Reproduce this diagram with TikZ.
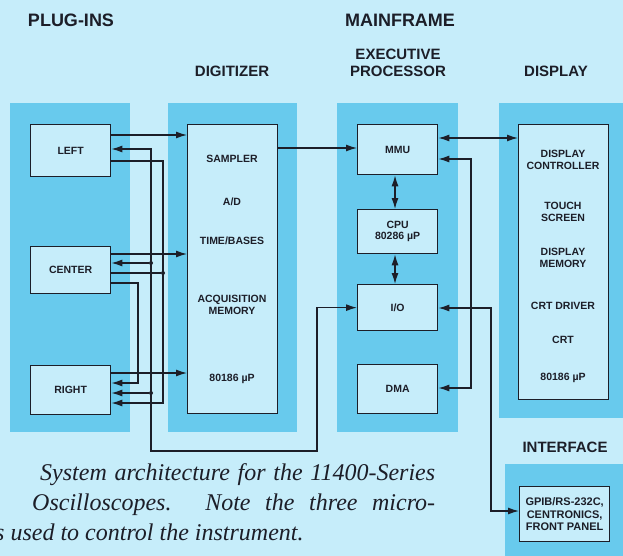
\documentclass[tikz,border=0pt]{standalone}
\usepackage{fontspec}
\setmainfont{Liberation Sans}
\newfontfamily\capfont{Liberation Serif}
\usetikzlibrary{arrows.meta}
\definecolor{paper}{RGB}{198,237,250}
\definecolor{panel}{RGB}{104,202,237}
\definecolor{ink}{RGB}{28,30,40}
\begin{document}
\begin{tikzpicture}[x=1pt,y=-1pt,
  panelbg/.style={fill=panel,draw=none},
  unit/.style={draw=ink,fill=paper,line width=1.3pt,inner sep=0pt,anchor=north west},
  lbl/.style={font=\bfseries\fontsize{10.5}{11.5}\selectfont,text=ink,align=center,inner sep=0pt},
  head/.style={font=\bfseries\fontsize{18}{20}\selectfont,text=ink,inner sep=0pt},
  subhead/.style={font=\bfseries\fontsize{15}{16.5}\selectfont,text=ink,align=center,inner sep=0pt},
  wire/.style={draw=ink,line width=1.3pt},
  tip/.tip={Latex[length=11pt,width=7pt]},
  arr/.style={wire,-tip},
  biarr/.style={wire,tip-tip},
  joint/.style={circle,fill=ink,inner sep=0pt,minimum size=4pt},
  captxt/.style={font=\capfont\itshape\fontsize{24}{28}\selectfont,text=ink,inner sep=0pt,anchor=base west}
]
% page
\fill[paper] (0,0) rectangle (623,556);
\useasboundingbox (0,0) rectangle (623,556);

% shaded column panels
\fill[panelbg] (10,103) rectangle (130,432);
\fill[panelbg] (168,103) rectangle (297,432);
\fill[panelbg] (337,103) rectangle (458,432);
\fill[panelbg] (499,103) rectangle (623,418);
\fill[panelbg] (505,464) rectangle (623,556);

% headings
\node[head] (hplug) at (71,20) {PLUG-INS};
\node[head] (hmain) at (400,20) {MAINFRAME};
\node[subhead] (hdig) at (232,71) {DIGITIZER};
\node[subhead] (hexec) at (398,63) {EXECUTIVE\\PROCESSOR};
\node[subhead] (hdisp) at (556,71) {DISPLAY};
\node[subhead] (hintf) at (565,447) {INTERFACE};

% plug-in units
\node[unit,minimum width=80pt,minimum height=52pt] (left) at (30,124) {};
\node[lbl] at (left.center) {LEFT};
\node[unit,minimum width=80pt,minimum height=47pt] (center) at (30,246) {};
\node[lbl] at (center.center) {CENTER};
\node[unit,minimum width=80pt,minimum height=49pt] (right) at (30,365) {};
\node[lbl] at (right.center) {RIGHT};

% digitizer
\node[unit,minimum width=90pt,minimum height=289pt] (dig) at (187,124) {};
\node[lbl] at (232,159) {SAMPLER};
\node[lbl] at (232,202) {A/D};
\node[lbl] at (232,241) {TIME/BASES};
\node[lbl] at (232,305) {ACQUISITION\\MEMORY};
\node[lbl] at (232,379) {80186 µP};

% executive processor
\node[unit,minimum width=80pt,minimum height=50pt] (mmu) at (357,124) {};
\node[lbl] at (mmu.center) {MMU};
\node[unit,minimum width=80pt,minimum height=44pt] (cpu) at (357,209) {};
\node[lbl] at (cpu.center) {CPU\\80286 µP};
\node[unit,minimum width=80pt,minimum height=46pt] (io) at (357,284) {};
\node[lbl] at (io.center) {I/O};
\node[unit,minimum width=80pt,minimum height=49pt] (dma) at (357,364) {};
\node[lbl] at (dma.center) {DMA};

% display
\node[unit,minimum width=90pt,minimum height=275pt] (disp) at (518,124) {};
\node[lbl] at (563,160) {DISPLAY\\CONTROLLER};
\node[lbl] at (563,212) {TOUCH\\SCREEN};
\node[lbl] at (563,258) {DISPLAY\\MEMORY};
\node[lbl] at (563,306) {CRT DRIVER};
\node[lbl] at (563,340) {CRT};
\node[lbl] at (563,378) {80186 µP};

% interface
\node[unit,minimum width=90pt,minimum height=55pt] (intf) at (519,486) {};
\node[lbl,font=\bfseries\fontsize{11}{12.5}\selectfont] at (intf.center) {GPIB/RS-232C,\\CENTRONICS,\\FRONT PANEL};

% plug-ins to digitizer
\draw[arr] (left.east |- 0,135) -- (dig.west |- 0,135);
\draw[arr] (center.east |- 0,254) -- (dig.west |- 0,254);
\draw[arr] (right.east |- 0,373) -- (dig.west |- 0,373);

% I/O bus back to the plug-ins
\coordinate (busA) at (151,451);
\coordinate (busB) at (317,451);
\draw[biarr] (left.east |- 0,149) -- (busA |- 0,149) -- (busA) -- (busB) -- (busB |- io.west) -- (io.west);
\node[joint] (j1) at (151,263) {};
\node[joint] (j2) at (151,393) {};
\draw[arr] (j1) -- (center.east |- j1);
\draw[arr] (j2) -- (right.east |- j2);

% left and center feeds to the right unit
\coordinate (feedA) at (163,161);
\draw[arr] (left.east |- feedA) -- (feedA) -- (feedA |- 0,403) -- (right.east |- 0,403);
\node[joint] (j3) at (163,273) {};
\draw[wire] (center.east |- j3) -- (j3);
\coordinate (feedB) at (138,283);
\draw[arr] (center.east |- feedB) -- (feedB) -- (feedB |- 0,383) -- (right.east |- 0,383);

% mainframe links
\draw[arr] (dig.east |- 0,148) -- (mmu.west |- 0,148);
\draw[biarr] (mmu.east |- 0,138) -- (disp.west |- 0,138);
\draw[biarr] (mmu.south -| 395,0) -- (cpu.north -| 395,0);
\draw[biarr] (cpu.south -| 395,0) -- (io.north -| 395,0);
\coordinate (dmaA) at (471,159);
\draw[biarr] (mmu.east |- dmaA) -- (dmaA) -- (dmaA |- 0,388) -- (dma.east |- 0,388);
\coordinate (ifA) at (491,308);
\draw[biarr] (io.east |- ifA) -- (ifA) -- (ifA |- 0,511) -- (intf.west |- 0,511);

% caption
\node[captxt] (cap1) at (40,480) {\makebox[395pt][s]{System architecture for the 11400-Series}};
\node[captxt] (cap2) at (32,510) {\makebox[403pt][s]{Oscilloscopes. Note the three micro-}};
\node[captxt] (cap3) at (-5,540) {s used to control the instrument.};
\end{tikzpicture}
\end{document}
